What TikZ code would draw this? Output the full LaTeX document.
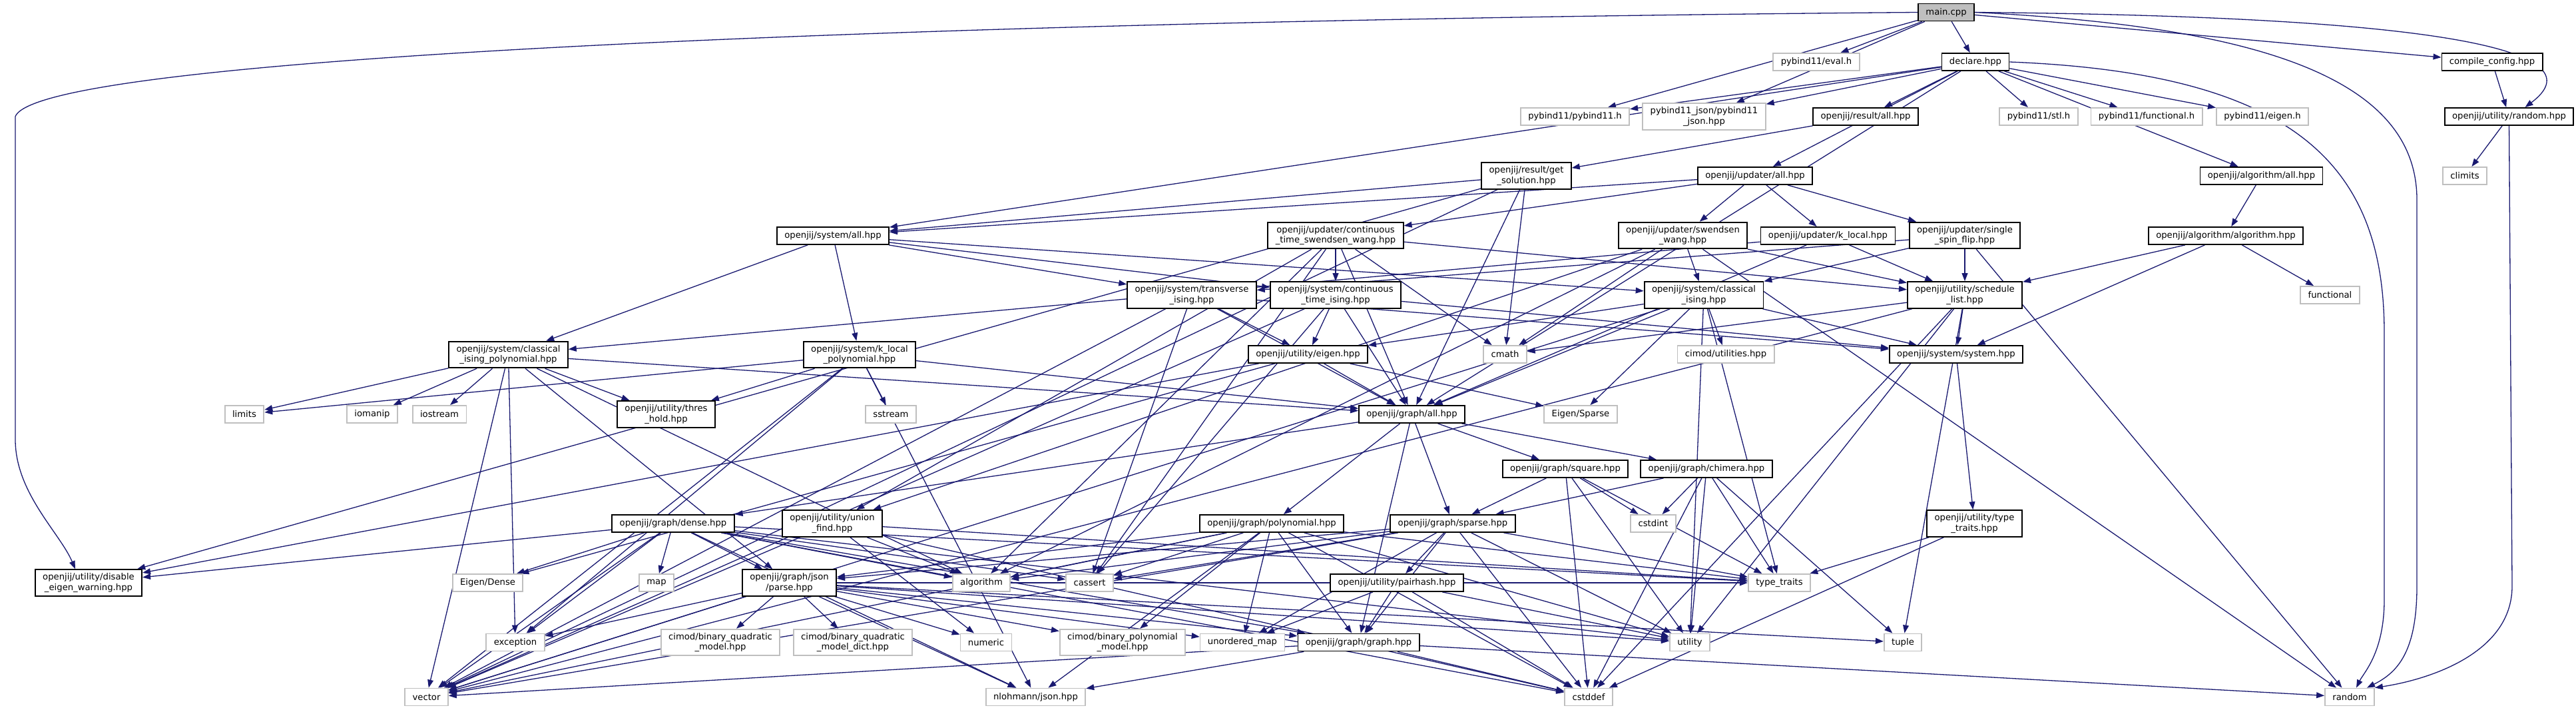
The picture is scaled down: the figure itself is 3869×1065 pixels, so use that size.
\documentclass[tikz,border=0pt]{standalone}
\usepackage{fontspec}
\setmainfont{DejaVu Sans}
\usetikzlibrary{arrows.meta,backgrounds}
\definecolor{EdgeBlue}{HTML}{191970}
\definecolor{ExtGray}{HTML}{BFBFBF}
\definecolor{RootGray}{HTML}{BFBFBF}
\begin{document}
\begin{tikzpicture}[
  x=0.5pt, y=-0.5pt,
  file/.style={line width=0.9pt, font=\fontsize{6.6}{7.7}\selectfont, align=center,
    inner xsep=5.7pt, inner ysep=2.8pt, minimum height=13pt},
  hdr/.style={file, draw=black, fill=white},
  ext/.style={file, draw=ExtGray, fill=white},
  root/.style={file, draw=black, fill=RootGray},
  incl/.style={draw=EdgeBlue, line width=0.65pt, -{Triangle[length=6pt,width=4.4pt]}},
]
\useasboundingbox (0,0) rectangle (3869,1065);
% ---------------- top rows
\node[root] (main) at (2923,18.5) {main.cpp};
\node[ext] (eval) at (2728,93) {pybind11/eval.h};
\node[hdr] (declare) at (2967,93) {declare.hpp};
\node[hdr] (compile) at (3743,93) {compile\_config.hpp};
\node[ext] (pyb) at (2365.5,175) {pybind11/pybind11.h};
\node[ext] (pybjson) at (2559.5,175) {pybind11\_json/pybind11\\\_json.hpp};
\node[hdr] (resall) at (2802,175) {openjij/result/all.hpp};
\node[ext] (stl) at (3062,175) {pybind11/stl.h};
\node[ext] (functionalh) at (3224,175) {pybind11/functional.h};
\node[ext] (eigenh) at (3398,175) {pybind11/eigen.h};
\node[hdr] (randomhpp) at (3768.5,175) {openjij/utility/random.hpp};
\node[hdr] (getsol) at (2292.5,264) {openjij/result/get\\\_solution.hpp};
\node[hdr] (updall) at (2636,264) {openjij/updater/all.hpp};
\node[hdr] (algall) at (3396.5,264) {openjij/algorithm/all.hpp};
\node[ext] (climits) at (3702,264) {climits};
% ---------------- updaters and systems
\node[hdr] (sysall) at (1251,354) {openjij/system/all.hpp};
\node[hdr] (ctsw) at (2006,353.5) {openjij/updater/continuous\\\_time\_swendsen\_wang.hpp};
\node[hdr] (sw) at (2527.5,353.5) {openjij/updater/swendsen\\\_wang.hpp};
\node[hdr] (klocal) at (2745.5,354) {openjij/updater/k\_local.hpp};
\node[hdr] (ssf) at (2951,353.5) {openjij/updater/single\\\_spin\_flip.hpp};
\node[hdr] (algo) at (3343,354) {openjij/algorithm/algorithm.hpp};
\node[ext] (functional) at (3499.5,443) {functional};
\node[hdr] (trans) at (1790,443) {openjij/system/transverse\\\_ising.hpp};
\node[hdr] (ctising) at (2006,443) {openjij/system/continuous\\\_time\_ising.hpp};
\node[hdr] (cising) at (2559,443) {openjij/system/classical\\\_ising.hpp};
\node[hdr] (sched) at (2951,443) {openjij/utility/schedule\\\_list.hpp};
\node[hdr] (cipoly) at (763.5,532.5) {openjij/system/classical\\\_ising\_polynomial.hpp};
\node[hdr] (klpoly) at (1291,532.5) {openjij/system/k\_local\\\_polynomial.hpp};
\node[hdr] (ueigen) at (1964.5,532) {openjij/utility/eigen.hpp};
\node[ext] (cmath) at (2260.5,532) {cmath};
\node[ext] (cimodutil) at (2592,532) {cimod/utilities.hpp};
\node[hdr] (system) at (2938,532) {openjij/system/system.hpp};
\node[hdr] (thres) at (1000.5,622) {openjij/utility/thres\\\_hold.hpp};
\node[ext] (limits) at (367,622) {limits};
\node[ext] (iomanip) at (559,622) {iomanip};
\node[ext] (iostream) at (660,622) {iostream};
\node[ext] (sstream) at (1338,622) {sstream};
% ---------------- graphs
\node[hdr] (graphall) at (2120.5,622) {openjij/graph/all.hpp};
\node[ext] (eigsparse) at (2374,622) {Eigen/Sparse};
\node[hdr] (square) at (2351,704) {openjij/graph/square.hpp};
\node[hdr] (chimera) at (2563,704) {openjij/graph/chimera.hpp};
\node[ext] (cstdint) at (2483,786) {cstdint};
\node[hdr] (sparse) at (2182,786) {openjij/graph/sparse.hpp};
\node[hdr] (gpoly) at (1910,786) {openjij/graph/polynomial.hpp};
\node[hdr] (ufind) at (1250,786) {openjij/utility/union\\\_find.hpp};
\node[hdr] (dense) at (1011,786) {openjij/graph/dense.hpp};
\node[hdr] (utypetraits) at (2965.5,786) {openjij/utility/type\\\_traits.hpp};
\node[hdr] (disable) at (133,875) {openjij/utility/disable\\\_eigen\_warning.hpp};
\node[ext] (eigdense) at (732.5,875) {Eigen/Dense};
\node[ext] (map) at (986,875) {map};
\node[hdr] (parse) at (1185.5,875) {openjij/graph/json\\/parse.hpp};
\node[ext] (algorithm) at (1474,875) {algorithm};
\node[ext] (cassert) at (1636.5,875) {cassert};
\node[hdr] (pairhash) at (2098,875) {openjij/utility/pairhash.hpp};
\node[ext] (typetraits) at (2672.5,875) {type\_traits};
% ---------------- bottom rows
\node[ext] (exception) at (774,964.5) {exception};
\node[ext] (bqm) at (1082,964.5) {cimod/binary\_quadratic\\\_model.hpp};
\node[ext] (bqmdict) at (1281,964.5) {cimod/binary\_quadratic\\\_model\_dict.hpp};
\node[ext] (numeric) at (1481,964.5) {numeric};
\node[ext] (bpm) at (1686,964.5) {cimod/binary\_polynomial\\\_model.hpp};
\node[ext] (umap) at (1866,964.5) {unordered\_map};
\node[hdr] (graph) at (2040.5,964.5) {openjij/graph/graph.hpp};
\node[ext] (utility) at (2538,964.5) {utility};
\node[ext] (tuple) at (2858,964.5) {tuple};
\node[ext] (vector) at (640.5,1046.5) {vector};
\node[ext] (nlohmann) at (1555.5,1046.5) {nlohmann/json.hpp};
\node[ext] (cstddef) at (2386,1046.5) {cstddef};
\node[ext] (random) at (3529,1046.5) {random};
% ---------------- includes
\begin{scope}[on background layer]
\foreach \t in {eval,pyb,pybjson,declare,compile} \draw[incl] (main) -- (\t);
\draw[incl] (main.west) .. controls (1500,30) and (60,80) .. (23,175) -- (23,660)
  .. controls (23,740) and (90,800) .. ([xshift=-10pt]disable.north);
\draw[incl] (main.east) .. controls (3700,25) and (3900,80) .. ([xshift=12pt]randomhpp.north);
\draw[incl] (main.east) .. controls (3400,40) and (3630,120) .. (3630,300) -- (3630,880)
  .. controls (3630,980) and (3600,1010) .. ([xshift=13pt]random.north);
\foreach \t in {pyb,pybjson,resall,stl,functionalh,eigenh,algall,updall,sysall,graphall} \draw[incl] (declare) -- (\t);
\draw[incl] (declare.east) .. controls (3450,110) and (3581,250) .. (3581,500) -- (3581,900)
  .. controls (3581,980) and (3550,1010) .. ([xshift=5pt]random.north);
\draw[incl] (compile) -- (randomhpp);
\draw[incl] (randomhpp) -- (climits);
\draw[incl] (randomhpp.south) -- (3773,880) .. controls (3773,980) and (3650,1020) .. (random.north east);
\draw[incl] (resall) -- (getsol);
\foreach \t in {sysall,graphall,cmath,vector,disable} \draw[incl] (getsol) -- (\t);
\foreach \t in {ctsw,sw,klocal,ssf,sysall} \draw[incl] (updall) -- (\t);
\draw[incl] (algall) -- (algo);
\foreach \t in {sched,system,functional} \draw[incl] (algo) -- (\t);
\foreach \t in {ctising,sched,cmath,graphall,ufind,algorithm,cassert} \draw[incl] (ctsw) -- (\t);
\foreach \t in {cising,ufind,sched,cmath,algorithm,random} \draw[incl] (sw) -- (\t);
\foreach \t in {cipoly,sched,graphall} \draw[incl] (klocal) -- (\t);
\foreach \t in {cising,trans,sched,random} \draw[incl] (ssf) -- (\t);
\foreach \t in {trans,ctising,cising,cipoly,klpoly} \draw[incl] (sysall) -- (\t);
\foreach \t in {ueigen,graphall,vector,cassert,system} \draw[incl] (trans) -- (\t);
\foreach \t in {ueigen,graphall,cassert,system,vector} \draw[incl] (ctising) -- (\t);
\foreach \t in {ueigen,graphall,eigsparse,cimodutil,typetraits,utility,system,vector} \draw[incl] (cising) -- (\t);
\foreach \t in {system,cmath,vector,utility,tuple,cstddef} \draw[incl] (sched) -- (\t);
\foreach \t in {limits,iomanip,iostream,thres,vector,graphall,parse,algorithm,exception} \draw[incl] (cipoly) -- (\t);
\foreach \t in {thres,sstream,nlohmann,graphall,limits,exception,vector} \draw[incl] (klpoly) -- (\t);
\foreach \t in {graphall,eigsparse,eigdense,disable} \draw[incl] (ueigen) -- (\t);
\draw[incl] (system) -- (utypetraits);
\foreach \t in {typetraits,cstddef} \draw[incl] (utypetraits) -- (\t);
\foreach \t in {gpoly,sparse,square,chimera,dense,graph} \draw[incl] (graphall) -- (\t);
\foreach \t in {sparse,cstdint,typetraits,utility,cstddef} \draw[incl] (square) -- (\t);
\foreach \t in {sparse,cstdint,typetraits,tuple,cstddef,utility} \draw[incl] (chimera) -- (\t);
\foreach \t in {graph,pairhash,typetraits,utility,cstddef,vector,algorithm,cassert,umap,parse} \draw[incl] (sparse) -- (\t);
\foreach \t in {graph,parse,algorithm,cassert,vector,umap,bpm,typetraits,utility,cstddef,nlohmann} \draw[incl] (gpoly) -- (\t);
\foreach \t in {disable,eigdense,map,parse,algorithm,cassert,vector,exception,typetraits,utility,cstddef,graph,nlohmann} \draw[incl] (dense) -- (\t);
\foreach \t in {algorithm,numeric,vector,typetraits,cstddef} \draw[incl] (ufind) -- (\t);
\foreach \t in {bqm,bqmdict,numeric,bpm,umap,nlohmann,graph,vector,exception,typetraits,utility,tuple} \draw[incl] (parse) -- (\t);
\foreach \t in {graph,umap,utility,cstddef} \draw[incl] (pairhash) -- (\t);
\foreach \t in {vector,cstddef,random,nlohmann} \draw[incl] (graph) -- (\t);
\end{scope}
\end{tikzpicture}
\end{document}
